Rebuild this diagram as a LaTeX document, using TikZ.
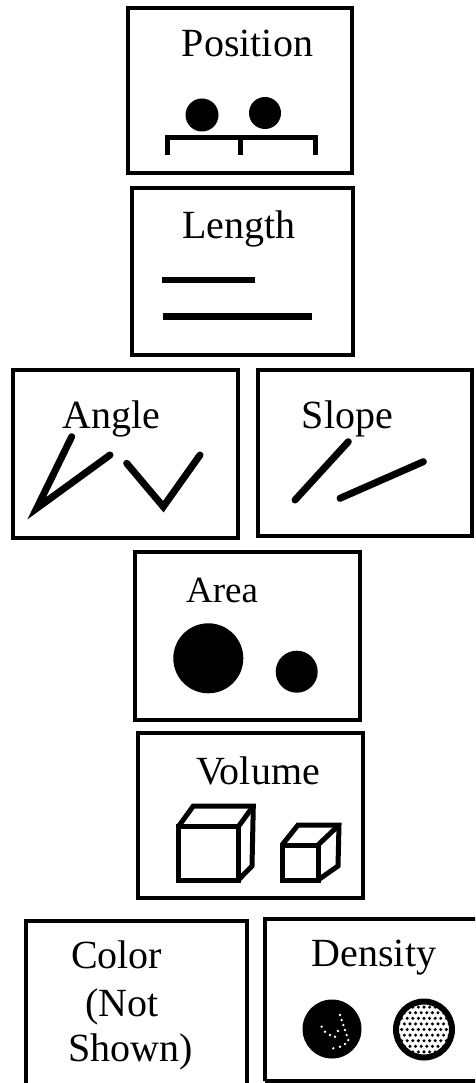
\documentclass[tikz,border=0pt]{standalone}
\usepackage{fontspec}
\setmainfont{Liberation Serif}
\begin{document}
\begin{tikzpicture}[x=1pt,y=-1pt,
  panel/.style={draw=black,line width=3.5pt},
  label/.style={anchor=base,inner sep=0pt,font=\fontsize{40}{47}\selectfont},
  stroke/.style={line width=7pt,line cap=round,line join=miter},
  bar/.style={line width=5pt,line cap=butt,line join=miter},
  cube/.style={line width=5pt,line join=miter}]
\useasboundingbox (0,0) rectangle (475,1083);
\clip (0,0) rectangle (475,1083);
\fill[white] (0,0) rectangle (475,1083);

% Position
\draw[panel] (128,8) rectangle (352,173);
\node[label] (tpos) at (247.5,56.7) {Position};
\fill (202,115) circle (16.5);
\fill (265,113) circle (16);
\draw[bar] (167.5,155) -- (167.5,137.5) -- (315,137.5) -- (315,155);
\draw[bar] (240,137.5) -- (240,155);

% Length
\draw[panel] (132,188) rectangle (353,355);
\node[label] (tlen) at (239,239) {Length};
\draw[line width=6.5pt] (162,280) -- (255,280);
\draw[line width=7pt] (163,316) -- (312,316);

% Angle
\draw[panel] (13,370) rectangle (238,538);
\node[label] (tang) at (111,428) {Angle};
\draw[stroke] (71.7,436.7) -- (36.7,508.3) -- (110,455);
\draw[stroke] (126.7,463.3) -- (163.3,506.7) -- (200,455);

% Slope
\draw[panel] (258,370) rectangle (472,536);
\node[label] (tslo) at (347.5,428) {Slope};
\draw[stroke] (348.3,441.7) -- (295,500);
\draw[stroke] (423.3,461.7) -- (340,498.3);

% Area
\draw[panel] (135,552) rectangle (360,720);
\node[label,font=\fontsize{37}{44}\selectfont] (tarea) at (222,602.7) {Area};
\fill (208.3,658.3) circle (35);
\fill (296.7,671.7) circle (21);

% Volume
\draw[panel] (138,733) rectangle (363,898);
\node[label] (tvol) at (258,784) {Volume};
\draw[cube] (178.3,826.7) rectangle (238.3,880);
\draw[cube] (178.3,826.7) -- (193.3,806) -- (253.3,806) -- (252,866) -- (238.3,880);
\draw[cube] (238.3,826.7) -- (253.3,806);
\draw[cube] (282,845) rectangle (318,880);
\draw[cube] (282,845) -- (298,825) -- (339,825) -- (338,866) -- (318,880);
\draw[cube] (318,845) -- (339,825);

% Color
\draw[panel] (26,1095) -- (26,921) -- (247,921) -- (247,1095);
\node[label] (tcol) at (116.7,968) {Color};
\node[label] (tnot) at (122.3,1016.7) {(Not};
\node[label] (tshown) at (130.8,1061.7) {Shown)};

% Density
\draw[panel] (265,1081) -- (265,919) -- (490,919);
\draw[panel] (265,1081) -- (490,1081);
\node[label] (tden) at (374,966.7) {Density};
\fill (332,1029) circle (29.5);
\foreach \p in {(340,1015),(341.7,1020),(343.3,1025),(345,1030),(346.7,1035),(348.3,1040),(345,1044),(340,1046.7),(333.3,1048.3),(321.7,1026.7),(325,1031.7),(330,1035),(335,1036.7),(338,1031)}
  \fill[white] \p circle (1.3);
\begin{scope}
  \clip (424,1029.5) circle (28);
  \foreach \i in {0,...,12}
    \foreach \j in {0,...,12}
      \fill ({424+(\i-6)*5.6+mod(\j,2)*2.8},{1029.5+(\j-6)*5.6}) circle (1.7);
\end{scope}
\draw[line width=6pt] (424,1029.5) circle (28);
\end{tikzpicture}
\end{document}
